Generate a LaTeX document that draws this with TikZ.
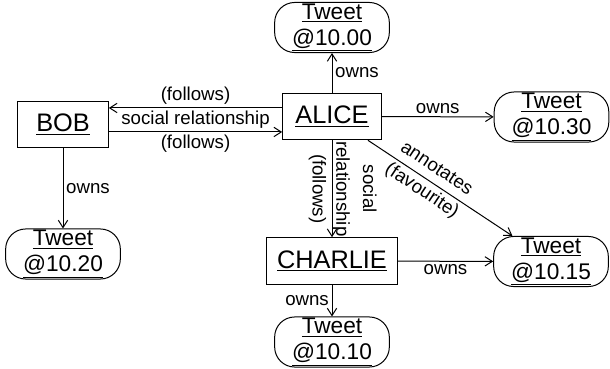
\documentclass[tikz,border=0pt]{standalone}
\usepackage{fontspec}
\setmainfont{Liberation Sans}
\usetikzlibrary{arrows.meta}

\begin{document}
\begin{tikzpicture}[x=0.75pt,y=-0.75pt,line width=0.75pt,
  >={Straight Barb[length=5.5pt,width=7pt]},
  actor/.style={draw,minimum height=35pt,inner sep=2pt,font=\fontsize{19}{22}\selectfont},
  tweet/.style={draw,rounded corners=15pt,minimum width=86pt,minimum height=37pt,inner sep=1pt,align=center,font=\fontsize{17}{19.5}\selectfont},
  lbl/.style={font=\fontsize{14}{16}\selectfont,inner sep=2pt},
  lbltwo/.style={font=\fontsize{14}{20}\selectfont,inner sep=0pt,align=center}]
\useasboundingbox (0,0) rectangle (610,368);

\node[actor,minimum width=74pt] (alice) at (332,116.5) {\underline{ALICE}};
\node[actor,minimum width=68pt] (bob) at (63,124.5) {\underline{BOB}};
\node[actor,minimum width=98pt] (charlie) at (332,261) {\underline{CHARLIE}};
\node[tweet] (t1000) at (332,27.5) {\underline{Tweet}\\\underline{@10.00}};
\node[tweet] (t1030) at (551.5,117) {\underline{Tweet}\\\underline{@10.30}};
\node[tweet] (t1020) at (63,254) {\underline{Tweet}\\\underline{@10.20}};
\node[tweet] (t1015) at (551,261.5) {\underline{Tweet}\\\underline{@10.15}};
\node[tweet] (t1010) at (332,342) {\underline{Tweet}\\\underline{@10.10}};

\draw[->] (alice) -- node[lbl,right]{owns} (t1000);
\draw[->] (alice) -- node[lbl,above]{owns} (t1030);
\draw[->] ([yshift=6.4pt]alice.west) -- node[lbl,above]{(follows)} node[lbl,below]{social relationship} ([yshift=12.4pt]bob.east);
\draw[->] ([yshift=-5.6pt]bob.east) -- node[lbl,below]{(follows)} ([yshift=-11.6pt]alice.west);
\draw[->] (alice) -- node[lbltwo,rotate=-90,anchor=south]{social\\relationship} node[lbl,rotate=-90,anchor=north,inner sep=4pt]{(follows)} (charlie);
\draw[->] (alice) -- node[lbltwo,sloped,pos=0.42]{annotates\\(favourite)} (t1015);
\draw[->] (bob) -- node[lbl,right]{owns} (t1020);
\draw[->] (charlie) -- node[lbl,below]{owns} (t1015);
\draw[->] (charlie) -- node[lbl,left]{owns} (t1010);
\end{tikzpicture}
\end{document}
